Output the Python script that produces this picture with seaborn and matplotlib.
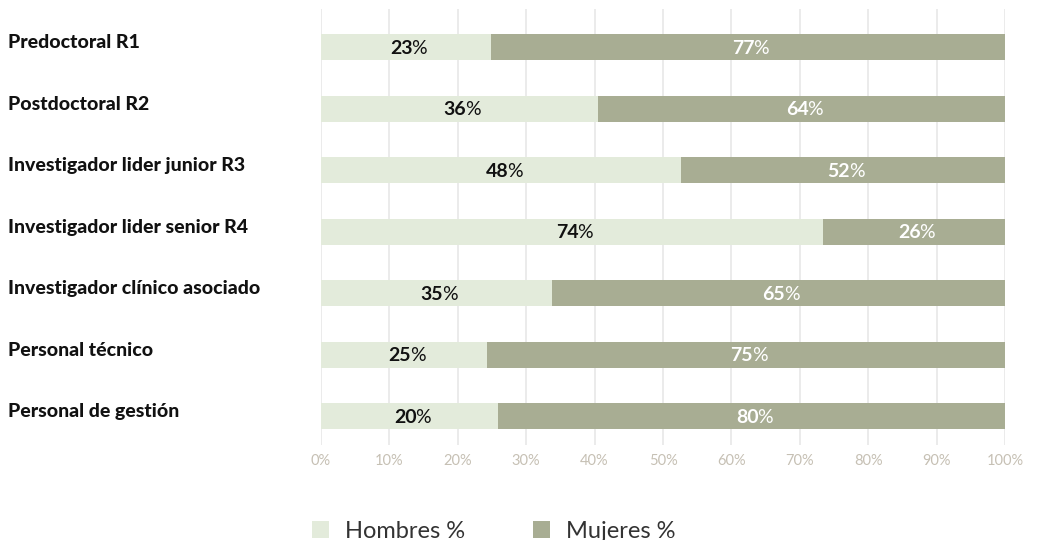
import matplotlib
matplotlib.use('Agg')
import matplotlib.pyplot as plt
import matplotlib.ticker as mticker
import matplotlib.transforms as mtransforms
from matplotlib.patches import Patch
import seaborn as sns
import pandas as pd

# ── data ─────────────────────────────────────────────────────────────────────
categorias = [
    'Predoctoral R1',
    'Postdoctoral R2',
    'Investigador lider junior R3',
    'Investigador lider senior R4',
    'Investigador clínico asociado',
    'Personal técnico',
    'Personal de gestión',
]
# bar lengths as drawn in the picture
hombres_bar = [24.8, 40.5, 52.7, 73.4, 33.7, 24.3, 25.9]
mujeres_bar = [75.2, 59.5, 47.3, 26.6, 66.3, 75.7, 74.1]
# printed labels
hombres_pct = [23, 36, 48, 74, 35, 25, 20]
mujeres_pct = [77, 64, 52, 26, 65, 75, 80]

x_ticks = [0, 10, 20, 30, 40, 50, 60, 70, 80, 90, 100]

C_H = '#e3ebdb'
C_M = '#a8ad93'
GRID = '#e8e8e8'
TICK = '#c6c0b4'

sns.set_theme(style='white')
plt.rcParams['font.family'] = ['Lato', 'DejaVu Sans']

df = pd.DataFrame({
    'cat': categorias,
    'hombres': hombres_bar,
    'total': [h + m for h, m in zip(hombres_bar, mujeres_bar)],
})

fig = plt.figure(figsize=(10.44, 5.4), dpi=100)
ax = fig.add_axes([321 / 1044, 1 - 445 / 540, (1005 - 321) / 1044, (445 - 9) / 540])

ax.set_axisbelow(True)
for t in x_ticks:
    ax.axvline(t, color=GRID, linewidth=1.2, zorder=0)

sns.barplot(data=df, x='total', y='cat', color=C_M, width=0.42,
            saturation=1, orient='h', ax=ax, zorder=2)
sns.barplot(data=df, x='hombres', y='cat', color=C_H, width=0.42,
            saturation=1, orient='h', ax=ax, zorder=3)
for p in ax.patches:
    p.set_linewidth(0)

ax.set_xlim(0, 100)
ax.set_ylim(6.47, -0.62)
ax.set_xticks(x_ticks)
ax.xaxis.set_major_formatter(mticker.FuncFormatter(lambda v, _: f'{int(v)}%'))
ax.tick_params(axis='x', length=0, pad=6.5, labelsize=10.5, labelcolor=TICK)
ax.tick_params(axis='y', length=0)
ax.set_yticklabels([])
ax.set_xlabel('')
ax.set_ylabel('')
for s in ax.spines.values():
    s.set_visible(False)


def pct_label(x, y, num, color):
    ax.annotate(str(num), (x, y), xytext=(5, 0), textcoords='offset points',
                ha='right', va='center', fontsize=14, fontweight='bold',
                color=color, zorder=5)
    ax.annotate('%', (x, y), xytext=(4, 0), textcoords='offset points',
                ha='left', va='center', fontsize=14, fontweight='normal',
                color=color, zorder=5)


for i, (hb, mb, hp, mp) in enumerate(zip(hombres_bar, mujeres_bar, hombres_pct, mujeres_pct)):
    pct_label(hb / 2, i + 0.02, hp, '#111111')
    pct_label(hb + mb / 2, i + 0.02, mp, 'white')

# category labels at left edge of figure
trans = mtransforms.blended_transform_factory(fig.transFigure, ax.transData)
for i, c in enumerate(categorias):
    ax.text(8 / 1044, i - 0.07, c, transform=trans, ha='left', va='center',
            fontsize=14, fontweight='black', color='#111111')

handles = [Patch(facecolor=C_H, edgecolor='none', label='Hombres %'),
           Patch(facecolor=C_M, edgecolor='none', label='Mujeres %')]
fig.legend(handles=handles, loc='center', bbox_to_anchor=(0.473, 1 - 531 / 540),
           ncol=2, frameon=False, fontsize=17, handlelength=0.72, handleheight=0.72,
           columnspacing=2.9, handletextpad=0.65, labelcolor='#333333')

plt.savefig('out.png', dpi=100)
plt.close()
